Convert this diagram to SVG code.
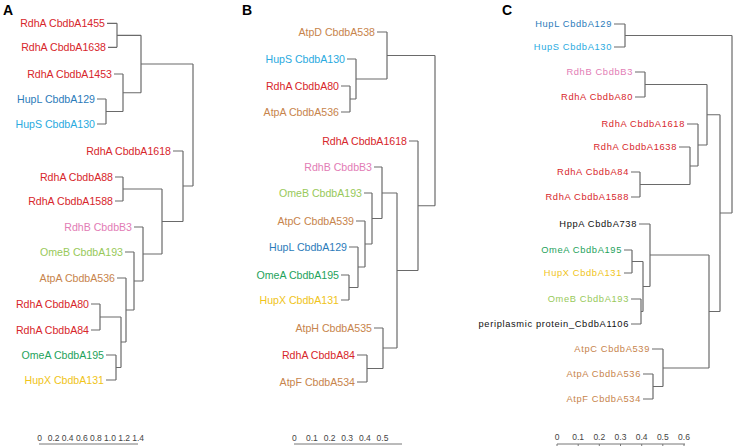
<svg xmlns="http://www.w3.org/2000/svg" width="736" height="447" viewBox="0 0 736 447">
<style>
text{font-family:"Liberation Sans",Arial,sans-serif}
.l{font-size:10.6px;text-anchor:end}
.c{font-size:9.3px;letter-spacing:0.65px;text-anchor:end}
.p{font-size:14px;font-weight:bold;fill:#000}
.s{font-size:8.5px;text-anchor:middle;fill:#444}
.red{fill:#d7262b}.blue{fill:#2b7bba}.cyan{fill:#2aaae0}.pink{fill:#e27cb5}
.lg{fill:#98c95a}.brown{fill:#c7844c}.green{fill:#1ea25b}.yel{fill:#f0c419}.blk{fill:#111}
.tree{fill:none;stroke:#6a6a6a;stroke-width:1.2}
.bar{fill:none;stroke:#777;stroke-width:1}
</style>
<rect width="736" height="447" fill="#fff"/>
<text class="p" x="3" y="15">A</text>
<text class="p" x="242" y="15">B</text>
<text class="p" x="502" y="15">C</text>
<g id="connectors" class="tree">
<path d="M107 23.3H117M108 47.3H117M114 74H123M97 99H106M97 124H106M173 151H183M115 177H123M115 201H123M134 227H143M125 252H134M117 278H126M91 304H100M91 330H100M106 355H116M106 380H116
M117 23.3V47.3M117 35.3H141M106 99V124M106 111.5H123M123 74V111.5M123 92.75H141M141 35.3V92.75M141 64H193M123 177V201M123 189H162M100 304V330M100 317H121M116 355V380M116 367.5H121M121 317V367.5M121 342H126M126 278V342M126 310H134M134 252V310M134 281H143M143 227V281M143 254H162M162 189V254M162 221.5H183M183 151V221.5M183 186H193M193 64V186"/>
<path d="M377 32H387M347 59H356M341 86H350M341 112H350M409 141H418M374 167H382M364 193H372M356 221H365M349 247H358M341 275H349M341 300H349M374 328H383M357 355H367M357 382H367
M350 86V112M350 99H356M356 59V99M356 79H387M387 32V79M387 55.5H435M349 275V300M349 287.5H358M358 247V287.5M358 267H365M365 221V267M365 244H372M372 193V244M372 218.5H382M382 167V218.5M382 193H397M367 355V382M367 368.5H383M383 328V368.5M383 348H397M397 193V348M397 270.5H418M418 141V270.5M418 205.75H435M435 55.5V205.75"/>
<path d="M614 24H625M614 47H625M635 72H645M635 97H645M687 124H698M679 147H690M631 172H640M631 197H640M639 224H650M624 250H632M624 273H632M631 299H641M631 324H641M652 349H663M643 374H653M643 399H653
M625 24V47M625 35.5H732M645 72V97M645 84.5H707M640 172V197M640 184.5H690M690 147V184.5M690 166H698M698 124V166M698 145H707M707 84.5V145M707 114.75H720M632 250V273M632 261.5H643M641 299V324M641 311.5H643M643 261.5V311.5M643 286.5H650M650 224V286.5M650 255H709M653 374V399M653 386.5H663M663 349V386.5M663 368H709M709 255V368M709 311.5H720M720 114.75V311.5M720 213H732M732 35.5V213"/>
</g>
<g id="panelA">
<g id="A-n1"><text class="l red" x="105" y="27.1">RdhA CbdbA1455</text></g>
<g id="A-n2"><text class="l red" x="106" y="51.1">RdhA CbdbA1638</text></g>
<g id="A-n3"><text class="l red" x="112" y="77.8">RdhA CbdbA1453</text></g>
<g id="A-n4"><text class="l blue" x="95" y="102.8">HupL CbdbA129</text></g>
<g id="A-n5"><text class="l cyan" x="95" y="127.8">HupS CbdbA130</text></g>
<g id="A-n6"><text class="l red" x="171" y="154.8">RdhA CbdbA1618</text></g>
<g id="A-n7"><text class="l red" x="113" y="180.8">RdhA CbdbA88</text></g>
<g id="A-n8"><text class="l red" x="113" y="204.8">RdhA CbdbA1588</text></g>
<g id="A-n9"><text class="l pink" x="132" y="230.8">RdhB CbdbB3</text></g>
<g id="A-n10"><text class="l lg" x="123" y="255.8">OmeB CbdbA193</text></g>
<g id="A-n11"><text class="l brown" x="115" y="281.8">AtpA CbdbA536</text></g>
<g id="A-n12"><text class="l red" x="89" y="307.8">RdhA CbdbA80</text></g>
<g id="A-n13"><text class="l red" x="89" y="333.8">RdhA CbdbA84</text></g>
<g id="A-n14"><text class="l green" x="104" y="358.8">OmeA CbdbA195</text></g>
<g id="A-n15"><text class="l yel" x="104" y="383.8">HupX CbdbA131</text></g>
</g>
<g id="panelB">
<g id="B-n1"><text class="l brown" x="375" y="35.8">AtpD CbdbA538</text></g>
<g id="B-n2"><text class="l cyan" x="345" y="62.8">HupS CbdbA130</text></g>
<g id="B-n3"><text class="l red" x="339" y="89.8">RdhA CbdbA80</text></g>
<g id="B-n4"><text class="l brown" x="339" y="115.8">AtpA CbdbA536</text></g>
<g id="B-n5"><text class="l red" x="407" y="144.8">RdhA CbdbA1618</text></g>
<g id="B-n6"><text class="l pink" x="372" y="170.8">RdhB CbdbB3</text></g>
<g id="B-n7"><text class="l lg" x="362" y="196.8">OmeB CbdbA193</text></g>
<g id="B-n8"><text class="l brown" x="354" y="224.8">AtpC CbdbA539</text></g>
<g id="B-n9"><text class="l blue" x="347" y="250.8">HupL CbdbA129</text></g>
<g id="B-n10"><text class="l green" x="339" y="278.8">OmeA CbdbA195</text></g>
<g id="B-n11"><text class="l yel" x="339" y="303.8">HupX CbdbA131</text></g>
<g id="B-n12"><text class="l brown" x="372" y="331.8">AtpH CbdbA535</text></g>
<g id="B-n13"><text class="l red" x="355" y="358.8">RdhA CbdbA84</text></g>
<g id="B-n14"><text class="l brown" x="355" y="385.8">AtpF CbdbA534</text></g>
</g>
<g id="panelC">
<g id="C-n1"><text class="c blue" x="612" y="27.3">HupL CbdbA129</text></g>
<g id="C-n2"><text class="c cyan" x="612" y="50.3">HupS CbdbA130</text></g>
<g id="C-n3"><text class="c pink" x="633" y="75.3">RdhB CbdbB3</text></g>
<g id="C-n4"><text class="c red" x="633" y="100.3">RdhA CbdbA80</text></g>
<g id="C-n5"><text class="c red" x="685" y="127.3">RdhA CbdbA1618</text></g>
<g id="C-n6"><text class="c red" x="677" y="150.3">RdhA CbdbA1638</text></g>
<g id="C-n7"><text class="c red" x="629" y="175.3">RdhA CbdbA84</text></g>
<g id="C-n8"><text class="c red" x="629" y="200.3">RdhA CbdbA1588</text></g>
<g id="C-n9"><text class="c blk" x="637" y="227.3">HppA CbdbA738</text></g>
<g id="C-n10"><text class="c green" x="622" y="253.3">OmeA CbdbA195</text></g>
<g id="C-n11"><text class="c yel" x="622" y="276.3">HupX CbdbA131</text></g>
<g id="C-n12"><text class="c lg" x="629" y="302.3">OmeB CbdbA193</text></g>
<g id="C-n13"><text class="c blk" x="629" y="327.3">periplasmic protein_CbdbA1106</text></g>
<g id="C-n14"><text class="c brown" x="650" y="352.3">AtpC CbdbA539</text></g>
<g id="C-n15"><text class="c brown" x="641" y="377.3">AtpA CbdbA536</text></g>
<g id="C-n16"><text class="c brown" x="641" y="402.3">AtpF CbdbA534</text></g>
</g>
<g id="scales">
<path class="bar" d="M39 444H138M294 444H402M557 444H685M557 444v2M578.2 444v2M599.3 444v2M620.5 444v2M641.7 444v2M662.8 444v2M684 444v2"/>
<text class="s" x="39.5" y="441">0</text><text class="s" x="53.6" y="441">0.2</text><text class="s" x="67.7" y="441">0.4</text><text class="s" x="81.8" y="441">0.6</text><text class="s" x="95.9" y="441">0.8</text><text class="s" x="110" y="441">1.0</text><text class="s" x="124.1" y="441">1.2</text><text class="s" x="138.2" y="441">1.4</text>
<text class="s" x="294.3" y="441">0</text><text class="s" x="311.9" y="441">0.1</text><text class="s" x="329.6" y="441">0.2</text><text class="s" x="347.2" y="441">0.3</text><text class="s" x="364.9" y="441">0.4</text><text class="s" x="382.5" y="441">0.5</text>
<text class="s" x="557" y="440">0</text><text class="s" x="578.2" y="440">0.1</text><text class="s" x="599.3" y="440">0.2</text><text class="s" x="620.5" y="440">0.3</text><text class="s" x="641.7" y="440">0.4</text><text class="s" x="662.8" y="440">0.5</text><text class="s" x="684" y="440">0.6</text>
</g>
</svg>
